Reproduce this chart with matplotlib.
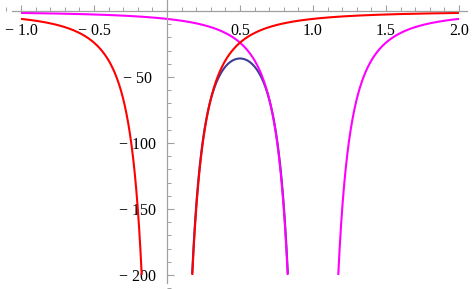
import numpy as np
import matplotlib.pyplot as plt
from matplotlib.ticker import FixedLocator, MultipleLocator

# values
strength = 6.0          # depth coefficient of each well
poles = [0.0, 1.0]      # red well at x=0, magenta well at x=1
offset = 12.0           # blue curve shift (peak ~ -36 at x=0.5)
floor = -200.0          # curves are cut at this value

xticks = [-1.0, -0.5, 0.5, 1.0, 1.5, 2.0]
xlabels = ['\u2212 1.0', '\u2212 0.5', '0.5', '1.0', '1.5', '2.0']
yticks = [-50, -100, -150, -200]
ylabels = ['\u2212 50', '\u2212 100', '\u2212 150', '\u2212 200']

red_c = '#ff0000'
mag_c = '#ff00ff'
blue_c = '#3c3c96'

plt.rcParams['font.family'] = ['Liberation Serif', 'DejaVu Serif']
plt.rcParams['font.size'] = 11.5

fig = plt.figure(figsize=(4.74, 2.89), dpi=100)
ax = fig.add_axes([0, 0, 1, 1])
ax.patch.set_alpha(0)


def well(x, p):
    return -strength / (x - p) ** 2


def blue(x):
    return well(x, poles[0]) + well(x, poles[1]) + offset


half = np.sqrt(strength / -floor)

# blue between the two wells
xb = np.linspace(poles[0] + 0.165, poles[1] - 0.165, 800)
yb = blue(xb)
ax.plot(xb, np.where(yb >= floor, yb, np.nan), color=blue_c, lw=1.5)

for p, c in [(poles[1], mag_c), (poles[0], red_c)]:
    xl = np.linspace(-1.0, p - half, 800)
    xr = np.linspace(p + half, 2.0, 800)
    ax.plot(xl, well(xl, p), color=c, lw=1.5, solid_capstyle='butt')
    ax.plot(xr, well(xr, p), color=c, lw=1.5, solid_capstyle='butt')

ax.set_xlim(-1.144, 2.103)
ax.set_ylim(-210.6, 8.3)

for s in ['top', 'right']:
    ax.spines[s].set_visible(False)
ax.spines['left'].set_position(('data', 0))
ax.spines['bottom'].set_position(('data', 0))
ax.spines['bottom'].set_bounds(-1.062, 2.055)
ax.spines['left'].set_bounds(-206, 8.3)
for s in ['left', 'bottom']:
    ax.spines[s].set_color('#a0a0a0')
    ax.spines[s].set_linewidth(0.9)

ax.xaxis.set_major_locator(FixedLocator(xticks))
ax.set_xticklabels(xlabels)
ax.xaxis.set_minor_locator(MultipleLocator(0.1))
ax.yaxis.set_major_locator(FixedLocator(yticks))
ax.set_yticklabels(ylabels, ha='center')
ax.yaxis.set_minor_locator(MultipleLocator(10))

ax.tick_params(axis='x', which='major', direction='in', length=4.3, width=0.8,
               color='#a0a0a0', pad=8.5)
ax.tick_params(axis='x', which='minor', direction='in', length=2.6, width=0.7,
               color='#a0a0a0')
ax.tick_params(axis='y', which='major', direction='in', length=5, width=0.8,
               color='#a0a0a0', pad=21)
ax.tick_params(axis='y', which='minor', direction='in', length=2.8, width=0.7,
               color='#a0a0a0')

fig.savefig('out.png', dpi=100)
